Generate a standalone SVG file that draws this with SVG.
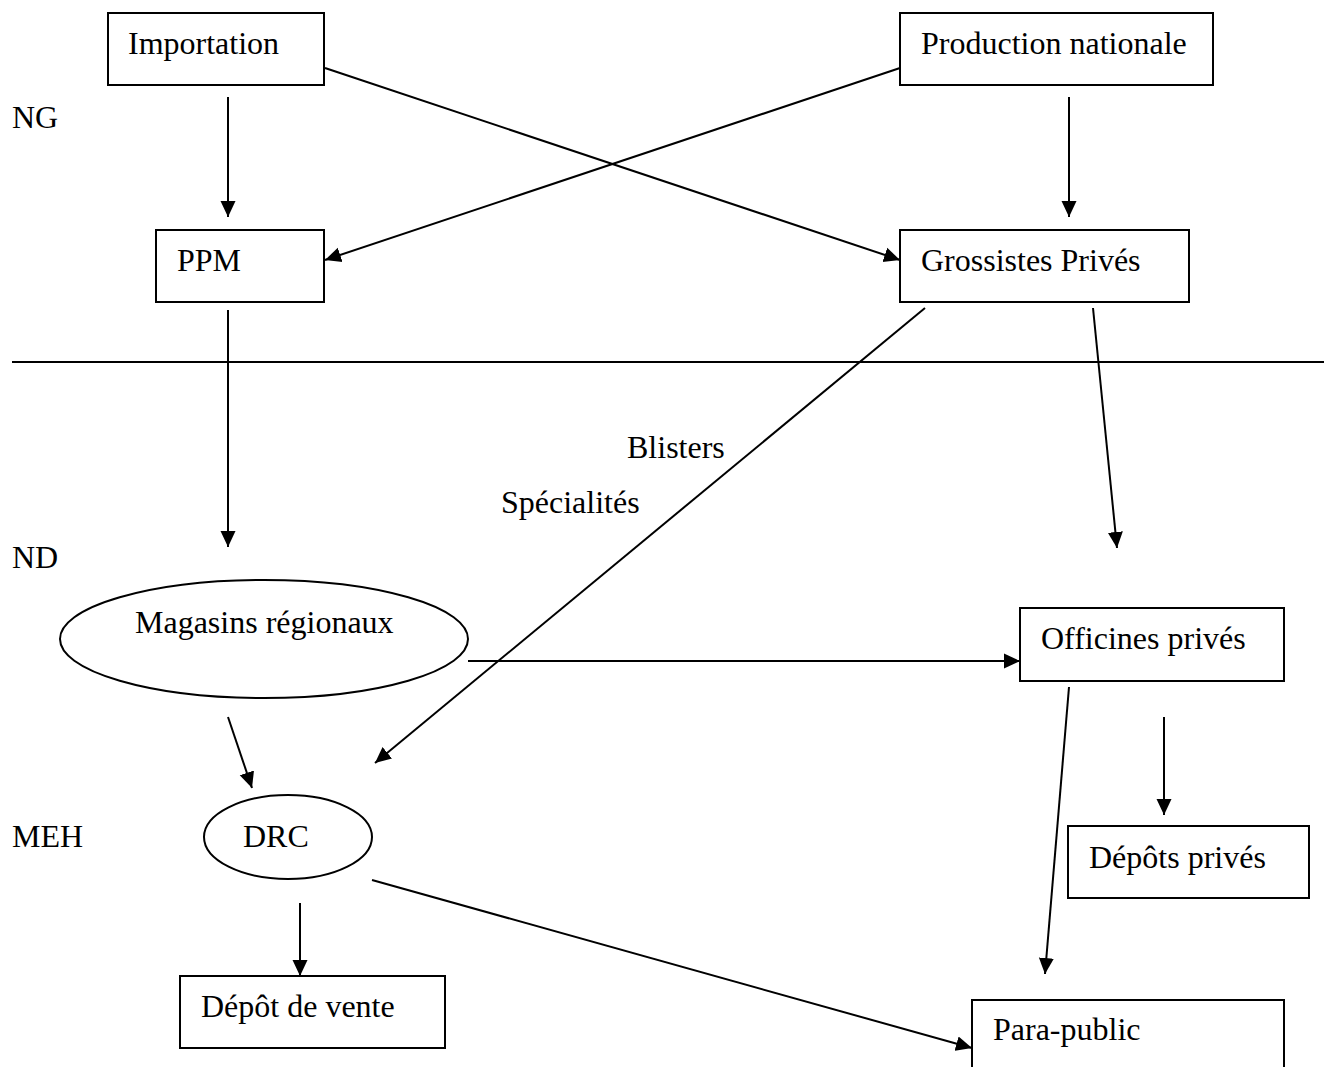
<svg xmlns="http://www.w3.org/2000/svg" width="1324" height="1067" viewBox="0 0 1324 1067">
<style>
.box{fill:#fff;stroke:#000;stroke-width:2}
.t{font-family:"Liberation Serif","Times New Roman",serif;font-size:32px;fill:#000}
.c{stroke:#000;stroke-width:2;fill:none;marker-end:url(#ah)}
</style>
<defs>
<marker id="ah" markerUnits="userSpaceOnUse" markerWidth="18" markerHeight="16" refX="16" refY="8" orient="auto">
<path d="M0,0.5 L16,8 L0,15.5 z" fill="#000"/>
</marker>
</defs>
<rect width="1324" height="1067" fill="#fff"/>
<g id="labels">
<text class="t" x="12" y="128">NG</text>
<text class="t" x="12" y="568">ND</text>
<text class="t" x="12" y="847">MEH</text>
<text class="t" x="627" y="458">Blisters</text>
<text class="t" x="501" y="513">Spécialités</text>
</g>
<g id="divider"><line x1="12" y1="362" x2="1324" y2="362" stroke="#000" stroke-width="2"/></g>
<g id="connectors">
<line class="c" x1="228" y1="97" x2="228" y2="217"/>
<line class="c" x1="1069" y1="97" x2="1069" y2="217"/>
<line class="c" x1="325" y1="68" x2="900" y2="260"/>
<line class="c" x1="900" y1="68" x2="325" y2="260"/>
<line class="c" x1="228" y1="310" x2="228" y2="547"/>
<line class="c" x1="925" y1="308" x2="375" y2="763"/>
<line class="c" x1="1093" y1="308" x2="1117" y2="548"/>
<line class="c" x1="468" y1="661" x2="1020" y2="661"/>
<line class="c" x1="228" y1="717" x2="252" y2="788"/>
<line class="c" x1="1164" y1="717" x2="1164" y2="815"/>
<line class="c" x1="1069" y1="687" x2="1045" y2="974"/>
<line class="c" x1="372" y1="880" x2="972" y2="1048"/>
<line class="c" x1="300" y1="903" x2="300" y2="976"/>
</g>
<g id="importation"><rect class="box" x="108" y="13" width="216" height="72"/><text class="t" x="128" y="54">Importation</text></g>
<g id="production"><rect class="box" x="900" y="13" width="313" height="72"/><text class="t" x="921" y="54">Production nationale</text></g>
<g id="ppm"><rect class="box" x="156" y="230" width="168" height="72"/><text class="t" x="177" y="271">PPM</text></g>
<g id="grossistes"><rect class="box" x="900" y="230" width="289" height="72"/><text class="t" x="921" y="271">Grossistes Privés</text></g>
<g id="magasins"><ellipse class="box" cx="264" cy="639" rx="204" ry="59"/><text class="t" x="135" y="633">Magasins régionaux</text></g>
<g id="officines"><rect class="box" x="1020" y="608" width="264" height="73"/><text class="t" x="1041" y="649">Officines privés</text></g>
<g id="drc"><ellipse class="box" cx="288" cy="837" rx="84" ry="42"/><text class="t" x="243" y="847">DRC</text></g>
<g id="depots-prives"><rect class="box" x="1068" y="826" width="241" height="72"/><text class="t" x="1089" y="868">Dépôts privés</text></g>
<g id="depot-vente"><rect class="box" x="180" y="976" width="265" height="72"/><text class="t" x="201" y="1017">Dépôt de vente</text></g>
<g id="para-public"><rect class="box" x="972" y="1000" width="312" height="80"/><text class="t" x="993" y="1040">Para-public</text></g>
</svg>
